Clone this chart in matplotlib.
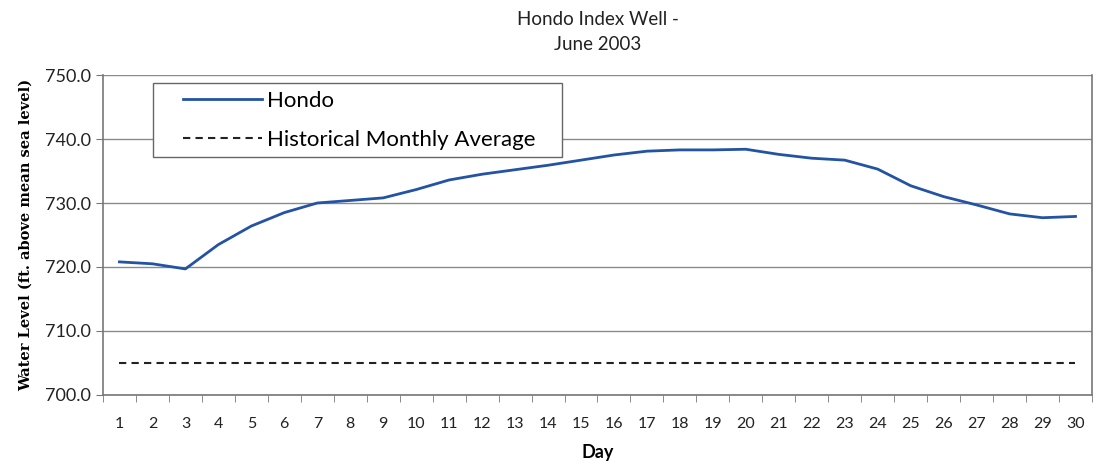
import numpy as np
import matplotlib.pyplot as plt
from matplotlib.patches import Rectangle
from matplotlib.ticker import MultipleLocator, FixedLocator

days = list(range(1, 31))
hondo = [720.8, 720.5, 719.7, 723.5, 726.4, 728.5, 730.0, 730.4, 730.8, 732.1,
         733.6, 734.5, 735.2, 735.9, 736.7, 737.5, 738.1, 738.3, 738.3, 738.4,
         737.6, 737.0, 736.7, 735.3, 732.7, 731.0, 729.7, 728.3, 727.7, 727.9]
hist_avg = [705.0] * 30

plt.rcParams['font.family'] = ['Lato', 'DejaVu Sans']

fig = plt.figure(figsize=(10.99, 4.66), dpi=100)
ax = fig.add_axes([0.0937, 0.1524, 0.8999, 0.6866])

ax.plot(days, hondo, color='#2353a3', lw=2.0, label='Hondo')
ax.plot(days, hist_avg, color='#222222', lw=1.5, ls=(0, (3.5, 2.5)),
        label='Historical Monthly Average')

ax.set_xlim(0.5, 30.5)
ax.set_ylim(700, 750)
ax.yaxis.set_major_locator(MultipleLocator(10))
ax.yaxis.set_major_formatter(lambda v, p: f'{v:.1f}')
ax.grid(axis='y', color='#8a8a8a', lw=1.0)
ax.set_axisbelow(True)

ax.set_xticks(days)
ax.xaxis.set_minor_locator(FixedLocator(np.arange(0.5, 31, 1)))
ax.tick_params(axis='x', which='major', length=0, pad=16, labelsize=11.5,
               colors='#222222')
ax.tick_params(axis='x', which='minor', length=5, color='#777777')
ax.tick_params(axis='y', length=5, color='#777777', labelsize=13,
               labelcolor='#222222')

for s in ['left', 'bottom', 'right']:
    ax.spines[s].set_color('#777777')
    ax.spines[s].set_linewidth(1.2)
ax.spines['top'].set_visible(False)

ax.set_xlabel('Day', fontsize=13, fontweight='bold', labelpad=9)
ax.set_ylabel('Water Level (ft. above mean sea level)', fontsize=10.5,
              fontweight='bold', family='DejaVu Serif', labelpad=9)
ax.set_title('Hondo Index Well -\nJune 2003', fontsize=13.5, pad=18,
             color='#222222', linespacing=1.55)

# legend box is wider than the entries, so draw the frame separately
ax.add_patch(Rectangle((0.0506, 0.744), 0.4134, 0.231, transform=ax.transAxes,
                       facecolor='white', edgecolor='#666666', lw=1.0,
                       zorder=4))
leg = ax.legend(loc='upper left', bbox_to_anchor=(0.0809, 0.95), fontsize=16,
                frameon=False, handlelength=3.55, handletextpad=0.25,
                borderpad=0, labelspacing=0.85, borderaxespad=0)
leg.set_zorder(5)

fig.savefig('out.png', dpi=100)
